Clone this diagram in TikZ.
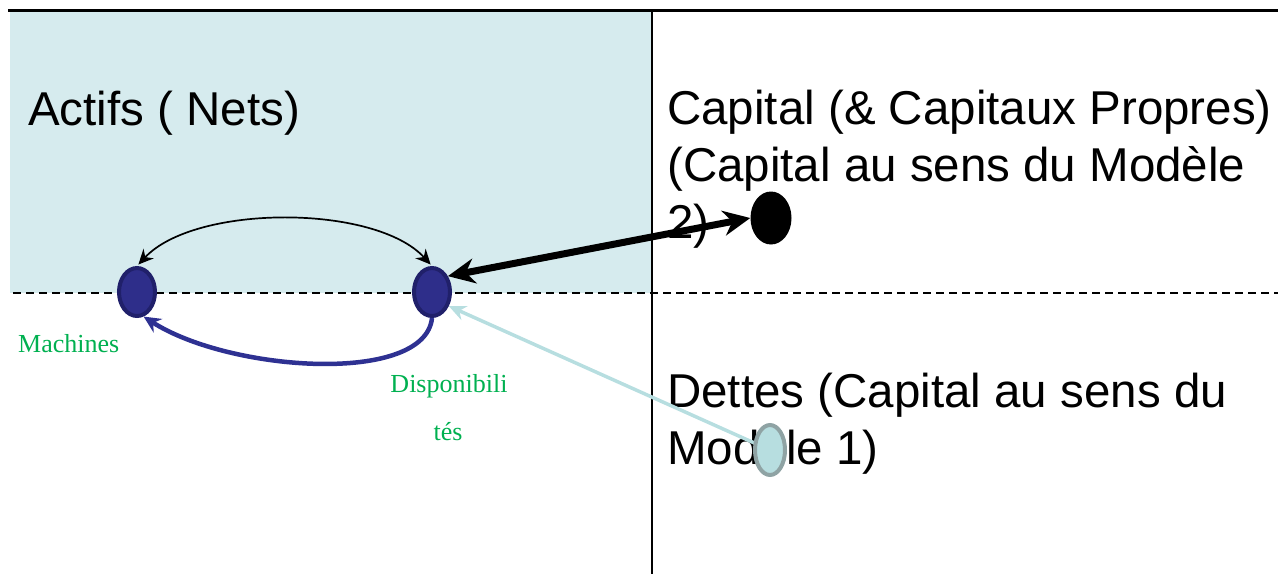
\documentclass[tikz,border=0pt]{standalone}
\usepackage{fontspec}
\setmainfont{Liberation Sans}
\newfontfamily\greenserif{Liberation Serif}
\usetikzlibrary{arrows.meta,shapes.geometric}
\definecolor{panelblue}{HTML}{D6EBEE}
\definecolor{navyfill}{HTML}{2E2E8A}
\definecolor{navyedge}{HTML}{20206A}
\definecolor{navyline}{HTML}{2E3192}
\definecolor{paleblue}{HTML}{B7DEE0}
\definecolor{palegrey}{HTML}{8FA3A4}
\definecolor{labelgreen}{HTML}{00B050}
\begin{document}
\begin{tikzpicture}[x=1pt,y=-1pt,
  big/.style={font=\fontsize{47.5}{57}\selectfont, inner sep=0pt, anchor=base west},
  small/.style={font=\greenserif\fontsize{26}{31}\selectfont, text=labelgreen, inner sep=0pt},
  navydot/.style={ellipse, draw=navyedge, fill=navyfill, line width=4pt, minimum width=36pt, minimum height=48pt, inner sep=0pt},
  blackdot/.style={ellipse, fill=black, minimum width=41pt, minimum height=53pt, inner sep=0pt},
  paledot/.style={ellipse, draw=palegrey, fill=paleblue, line width=4pt, minimum width=30pt, minimum height=50pt, inner sep=0pt}]
\useasboundingbox (0,0) rectangle (1278,574);
% background panel and grid lines
\fill[panelblue] (10,11) rectangle (651,293);
\draw[line width=3pt] (8,10) -- (1278,10);
\draw[line width=2.5pt] (652,10) -- (652,574);
\draw[line width=2pt, dash pattern=on 8pt off 5pt] (13,293) -- (1278,293);
% texts
\node[big] (actifs) at (28,125) {Actifs ( Nets)};
\node[big] (cap1) at (667,124) {Capital (\& Capitaux Propres)};
\node[big] (cap2) at (667,181) {(Capital au sens du Modèle};
\node[big] (cap3) at (667,238) {2)};
\node[big] (det1) at (667,407) {Dettes (Capital au sens du};
\node[big] (det2) at (667,464) {Modèle 1)};
\node[small, anchor=base west] (machlbl) at (18,352) {Machines};
\node[small, anchor=base] (displbl1) at (449,392) {Disponibili};
\node[small, anchor=base] (displbl2) at (448,440) {tés};
% dots
\node[navydot] (mach) at (137,292) {};
\node[navydot] (disp) at (432,292) {};
\node[blackdot] (capdot) at (771,218) {};
\coordinate (detc) at (770,450);
% connectors
\draw[line width=1.7pt, {Stealth[length=15pt,width=14pt]}-{Stealth[length=15pt,width=14pt]}, shorten <=2pt, shorten >=2pt]
  (mach.north) .. controls (195,204) and (375,204) .. (disp.north);
\draw[navyline, line width=4.5pt, -{Stealth[length=17pt,width=16pt]}]
  (disp.south) .. controls (425,385) and (230,372) .. (mach.-75);
\draw[line width=7pt, {Stealth[length=27pt,width=25pt]}-{Stealth[length=27pt,width=25pt]}]
  (disp.45) -- (capdot.west);
\draw[paleblue, line width=3.5pt, -{Stealth[length=17pt,width=15pt]}]
  (detc) -- (disp.-40);
\node[paledot] (detdot) at (detc) {};
\end{tikzpicture}
\end{document}
